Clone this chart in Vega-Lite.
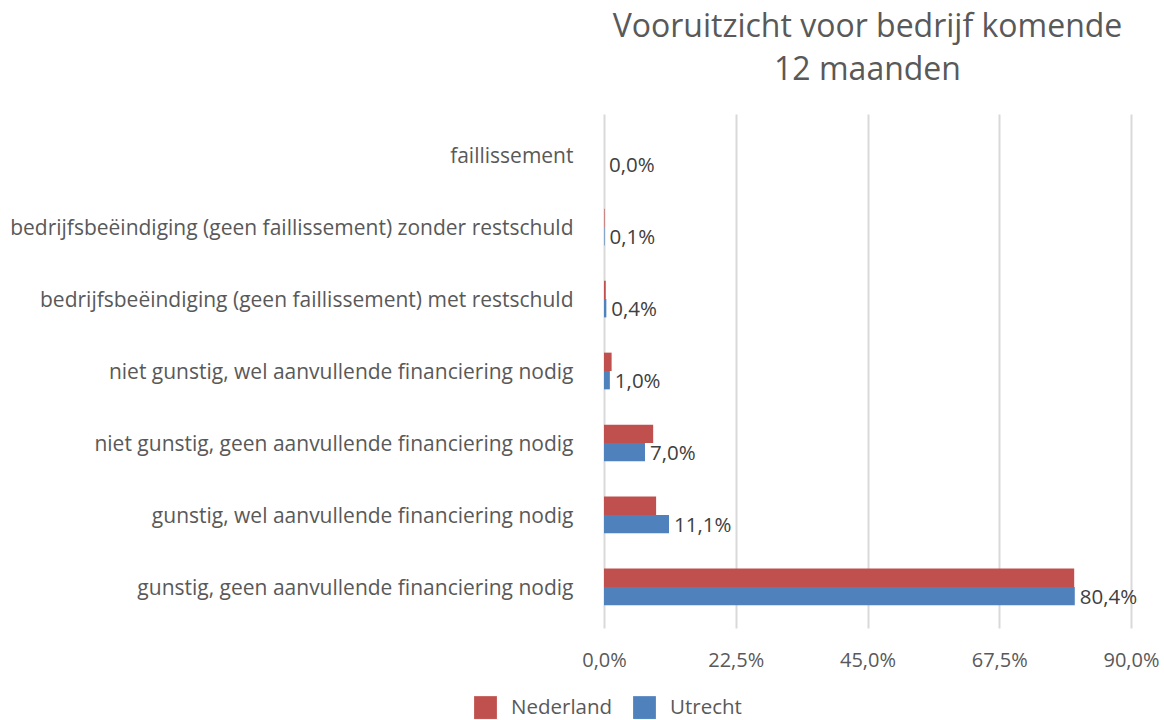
{
  "$schema": "https://vega.github.io/schema/vega-lite/v6.json",
  "autosize": {"type": "none"},
  "width": 527,
  "height": 514,
  "padding": {"left": 604, "top": 114, "right": 33, "bottom": 92},
  "background": "white",
  "title": {
    "text": ["Vooruitzicht voor bedrijf komende", "12 maanden"],
    "font": "Open Sans",
    "fontSize": 32,
    "fontWeight": "normal",
    "color": "#595959",
    "lineHeight": 43,
    "anchor": "middle",
    "offset": 27
  },
  "data": {
    "values": [
      {"cat": "faillissement", "serie": "Nederland", "v": 0.0},
      {"cat": "faillissement", "serie": "Utrecht", "v": 0.0},
      {"cat": "bedrijfsbeëindiging (geen faillissement) zonder restschuld", "serie": "Nederland", "v": 0.001},
      {"cat": "bedrijfsbeëindiging (geen faillissement) zonder restschuld", "serie": "Utrecht", "v": 0.001},
      {"cat": "bedrijfsbeëindiging (geen faillissement) met restschuld", "serie": "Nederland", "v": 0.003},
      {"cat": "bedrijfsbeëindiging (geen faillissement) met restschuld", "serie": "Utrecht", "v": 0.004},
      {"cat": "niet gunstig, wel aanvullende financiering nodig", "serie": "Nederland", "v": 0.013},
      {"cat": "niet gunstig, wel aanvullende financiering nodig", "serie": "Utrecht", "v": 0.010},
      {"cat": "niet gunstig, geen aanvullende financiering nodig", "serie": "Nederland", "v": 0.084},
      {"cat": "niet gunstig, geen aanvullende financiering nodig", "serie": "Utrecht", "v": 0.070},
      {"cat": "gunstig, wel aanvullende financiering nodig", "serie": "Nederland", "v": 0.089},
      {"cat": "gunstig, wel aanvullende financiering nodig", "serie": "Utrecht", "v": 0.111},
      {"cat": "gunstig, geen aanvullende financiering nodig", "serie": "Nederland", "v": 0.803},
      {"cat": "gunstig, geen aanvullende financiering nodig", "serie": "Utrecht", "v": 0.804}
    ]
  },
  "encoding": {
    "y": {
      "field": "cat",
      "type": "nominal",
      "sort": null,
      "title": null,
      "scale": {"paddingInner": 0.49, "paddingOuter": 0.315},
      "axis": {
        "domain": false,
        "ticks": false,
        "labelPadding": 31,
        "labelOffset": 2,
        "labelFont": "Open Sans",
        "labelFontSize": 21,
        "labelColor": "#595959",
        "labelLimit": 700
      }
    },
    "x": {
      "field": "v",
      "type": "quantitative",
      "title": null,
      "scale": {"domain": [0, 0.9], "nice": false},
      "axis": {
        "values": [0, 0.225, 0.45, 0.675, 0.9],
        "format": ".1%",
        "domain": false,
        "ticks": false,
        "grid": true,
        "gridColor": "#D9D9D9",
        "gridWidth": 2,
        "labelFlush": false,
        "labelPadding": 22,
        "labelFont": "Open Sans",
        "labelFontSize": 20,
        "labelColor": "#595959"
      }
    },
    "yOffset": {"field": "serie", "type": "nominal", "sort": ["Nederland", "Utrecht"]}
  },
  "layer": [
    {
      "mark": {"type": "bar"},
      "encoding": {
        "color": {
          "field": "serie",
          "type": "nominal",
          "scale": {"domain": ["Nederland", "Utrecht"], "range": ["#C0504D", "#4F81BD"]},
          "legend": {
            "title": null,
            "orient": "none",
            "direction": "horizontal",
            "legendX": -130,
            "legendY": 582,
            "symbolType": "square",
            "symbolSize": 520,
            "symbolStrokeWidth": 0,
            "symbolOpacity": 1,
            "labelFont": "Open Sans",
            "labelFontSize": 20.5,
            "labelColor": "#595959",
            "labelOffset": 14,
            "columnPadding": 20
          }
        }
      }
    },
    {
      "transform": [{"filter": "datum.serie === 'Utrecht'"}],
      "mark": {"type": "text", "align": "left", "baseline": "middle", "dx": 5, "dy": 2, "font": "Open Sans", "fontSize": 20.5, "color": "#404040"},
      "encoding": {
        "text": {"field": "v", "type": "quantitative", "format": ".1%"}
      }
    }
  ],
  "config": {
    "locale": {"number": {"decimal": ",", "thousands": ".", "grouping": [3], "currency": ["€ ", ""]}},
    "view": {"stroke": null}
  }
}
